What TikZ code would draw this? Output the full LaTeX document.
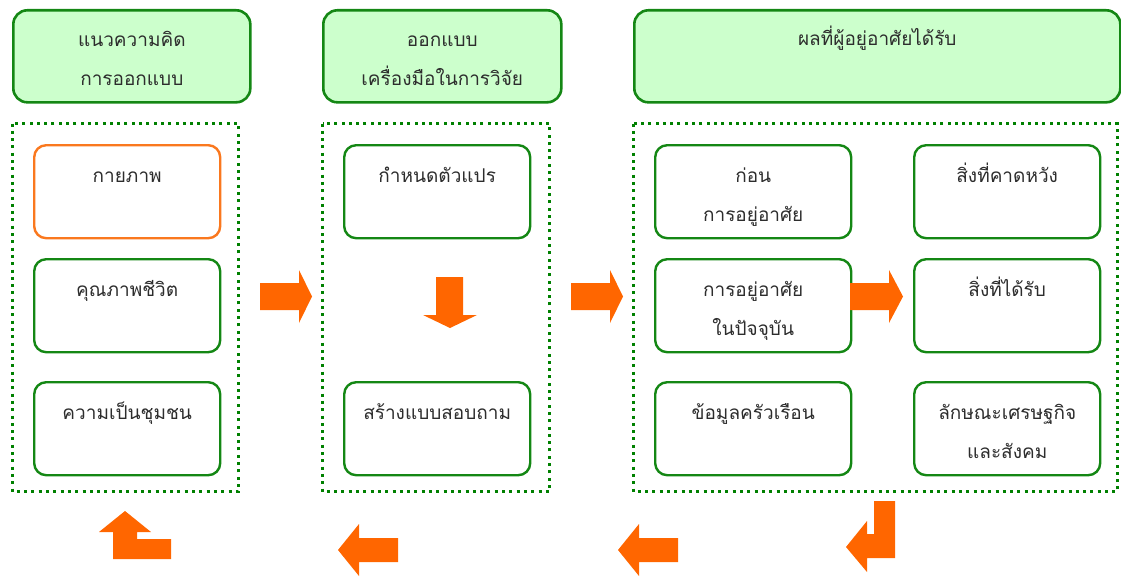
\documentclass[tikz,border=0pt]{standalone}
\usepackage{fontspec}
\newfontfamily\thai[Script=Thai]{Loma}
\usetikzlibrary{calc}
\definecolor{boxgreen}{RGB}{20,135,20}
\definecolor{hdrfill}{RGB}{204,255,204}
\definecolor{dotgreen}{RGB}{0,128,0}
\definecolor{arroworange}{RGB}{255,102,0}
\definecolor{boxorange}{RGB}{250,120,30}
\definecolor{txtgray}{RGB}{45,45,45}
\tikzset{
  hdr/.style={draw=boxgreen, fill=hdrfill, line width=2.6pt, rounded corners=14pt, anchor=north west, inner sep=0pt},
  inbox/.style={draw=boxgreen, fill=white, line width=2.4pt, rounded corners=12pt, anchor=north west, inner sep=0pt, minimum width=186pt, minimum height=93pt},
  frame/.style={draw=dotgreen, line width=3pt, dash pattern=on 3pt off 4.3pt},
  txt/.style={anchor=base, align=center, inner sep=0pt, text=txtgray, font=\thai\fontsize{19}{39.5}\selectfont},
}
% offsets from a box's top edge to the baseline of its last text line
\def\oneline{38}
\def\twoline{77.5}
\begin{document}
\begin{tikzpicture}[x=1pt,y=-1pt]
\useasboundingbox (0,0) rectangle (1121,578);

% column headers
\node[hdr, minimum width=237pt, minimum height=92pt] (h1) at (12,9) {};
\node[hdr, minimum width=238pt, minimum height=92pt] (h2) at (322,9) {};
\node[hdr, minimum width=486pt, minimum height=92pt] (h3) at (633,9) {};
\node[txt] (th1) at ($(h1.north)+(0,\twoline-1)$) {แนวความคิด\\การออกแบบ};
\node[txt] (th2) at ($(h2.north)+(0,\twoline-1)$) {ออกแบบ\\เครื่องมือในการวิจัย};
\node[txt] (th3) at ($(h3.north)+(0,\oneline-1)$) {ผลที่ผู้อยู่อาศัยได้รับ};

% dotted group frames
\draw[frame] (12.5,123.5) rectangle (238.5,491.5);
\draw[frame] (322.5,123.5) rectangle (549.5,491.5);
\draw[frame] (633.5,123.5) rectangle (1117.5,491.5);

% column 1
\node[inbox, draw=boxorange] (a1) at (33,144) {};
\node[inbox] (a2) at (33,258) {};
\node[inbox] (a3) at (33,381) {};
\node[txt] (ta1) at ($(a1.north)+(0,\oneline)$) {กายภาพ};
\node[txt] (ta2) at ($(a2.north)+(0,\oneline)$) {คุณภาพชีวิต};
\node[txt] (ta3) at ($(a3.north)+(0,\oneline)$) {ความเป็นชุมชน};

% column 2
\node[inbox] (b1) at (343,144) {};
\node[inbox] (b2) at (343,381) {};
\node[txt] (tb1) at ($(b1.north)+(0,\oneline)$) {กำหนดตัวแปร};
\node[txt] (tb2) at ($(b2.north)+(0,\oneline)$) {สร้างแบบสอบถาม};

% column 3, left
\node[inbox, minimum width=196pt] (c1) at (654,144) {};
\node[inbox, minimum width=196pt] (c2) at (654,258) {};
\node[inbox, minimum width=196pt] (c3) at (654,381) {};
\node[txt] (tc1) at ($(c1.north)+(0,\twoline)$) {ก่อน\\การอยู่อาศัย};
\node[txt] (tc2) at ($(c2.north)+(0,\twoline)$) {การอยู่อาศัย\\ในปัจจุบัน};
\node[txt] (tc3) at ($(c3.north)+(0,\oneline)$) {ข้อมูลครัวเรือน};

% column 3, right
\node[inbox] (d1) at (913,144) {};
\node[inbox] (d2) at (913,258) {};
\node[inbox] (d3) at (913,381) {};
\node[txt] (td1) at ($(d1.north)+(0,\oneline)$) {สิ่งที่คาดหวัง};
\node[txt] (td2) at ($(d2.north)+(0,\oneline)$) {สิ่งที่ได้รับ};
\node[txt] (td3) at ($(d3.north)+(0,\twoline)$) {ลักษณะเศรษฐกิจ\\และสังคม};

% block arrows pointing right
\fill[arroworange] (260,283) -- (299,283) -- (299,270) -- (312,296.5) -- (299,323) -- (299,310) -- (260,310) -- cycle;
\fill[arroworange] (571,283) -- (610,283) -- (610,270) -- (623,296.5) -- (610,323) -- (610,310) -- (571,310) -- cycle;
\fill[arroworange] (850,283) -- (889,283) -- (889,270) -- (903,296.5) -- (889,323) -- (889,310) -- (850,310) -- cycle;

% block arrow pointing down
\fill[arroworange] (436,277) -- (463,277) -- (463,315) -- (477,315) -- (450,328) -- (423,315) -- (436,315) -- cycle;

% return path along the bottom
\fill[arroworange] (874,501) -- (895,501) -- (895,558) -- (867,558) -- (867,572) -- (846,547) -- (867,521) -- (867,534) -- (874,534) -- cycle;
\fill[arroworange] (678,538) -- (639,538) -- (639,524) -- (618,550) -- (639,576) -- (639,562) -- (678,562) -- cycle;
\fill[arroworange] (398,538) -- (359,538) -- (359,524) -- (338,550) -- (359,576) -- (359,562) -- (398,562) -- cycle;
\fill[arroworange] (125,511) -- (151,532) -- (137,532) -- (137,539) -- (171,539) -- (171,559) -- (113,559) -- (113,532) -- (99,532) -- cycle;
\end{tikzpicture}
\end{document}
